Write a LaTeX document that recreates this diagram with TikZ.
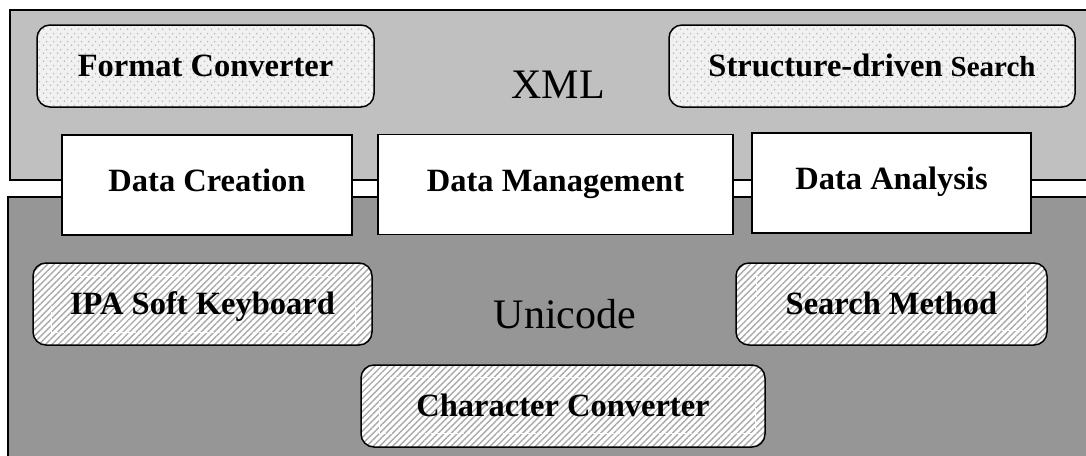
\documentclass[tikz,border=0pt]{standalone}
\usepackage{fontspec}
\setmainfont{Liberation Serif}
\usetikzlibrary{patterns.meta,calc}

\definecolor{xmlgray}{RGB}{192,192,192}
\definecolor{unigray}{RGB}{150,150,150}
\definecolor{dotbg}{RGB}{241,241,241}
\definecolor{dotfg}{RGB}{186,186,186}
\definecolor{hatchfg}{RGB}{170,170,170}

% staggered grid of small dots
\tikzdeclarepattern{
  name=softdots, type=uncolored,
  bounding box={(0pt,0pt) and (7pt,8pt)},
  tile size={(7pt,8pt)},
  code={
    \fill (1.75pt,2pt) circle [radius=1pt];
    \fill (5.25pt,6pt) circle [radius=1pt];
  }
}

\newcommand\labelfont{\fontsize{32.5}{36}\selectfont\bfseries}
\newcommand\layerfont{\fontsize{42}{48}\selectfont}

\begin{document}
\begin{tikzpicture}[x=1pt,y=-1pt,
  layer/.style={draw, line width=1.5pt},
  softbox/.style={draw, line width=1.5pt, rounded corners=13pt,
    preaction={fill=dotbg}, pattern=softdots, pattern color=dotfg,
    minimum height=82pt, inner sep=0pt, text height=21pt, text depth=0pt,
    font=\labelfont},
  hatchbox/.style={draw, line width=1.5pt, rounded corners=13pt,
    preaction={fill=white},
    pattern={Lines[angle=45,distance=4.6pt,line width=1.4pt]}, pattern color=hatchfg,
    minimum height=82pt, inner sep=0pt, text height=21pt, text depth=0pt,
    font=\labelfont},
  whitebox/.style={draw, line width=1.5pt, fill=white,
    minimum height=100pt, inner sep=0pt, text height=21pt, text depth=8pt,
    font=\labelfont},
  innerdash/.style={draw=white, line width=0.6pt, dash pattern=on 3pt off 3pt},
  layerlabel/.style={font=\layerfont, anchor=base, inner sep=0pt}
]
\useasboundingbox (0,0) rectangle (1086,455);
\clip (0,0) rectangle (1086,455);
\fill[white] (0,0) rectangle (1086,455);

% the two layers
\path[layer, fill=xmlgray] (10,10) rectangle (1100,180);
\path[layer, fill=unigray] (8,197) rectangle (1100,470);

\node[layerlabel] (xml) at (558,98) {XML};
\node[layerlabel] (uni) at (565,328) {Unicode};

% XML layer tools
\node[softbox, minimum width=337pt] (fmt) at (205.5,66) {Format Converter};
\node[softbox, minimum width=406pt] (sds) at (872,66)
  {Structure-driven {\fontsize{29}{32}\selectfont Search}};

% functions spanning both layers
\node[whitebox, minimum width=290pt] (create) at (207,185) {Data Creation};
\node[whitebox, minimum width=355pt] (manage) at (555.5,184.5) {Data Management};
\node[whitebox, minimum width=279pt] (analyse) at (891.5,183) {Data Analysis};

% Unicode layer tools
\node[hatchbox, minimum width=339pt] (ipa) at (202.5,304) {IPA Soft Keyboard};
\node[hatchbox, minimum width=311pt] (search) at (891.5,304) {Search Method};
\node[hatchbox, minimum width=404pt] (char) at (563,406) {Character Converter};

\draw[innerdash] ($(ipa.north west)+(19,14)$) rectangle ($(ipa.south east)+(-17,-13)$);
\draw[innerdash] ($(search.north west)+(21,14)$) rectangle ($(search.south east)+(-21,-15)$);
\draw[innerdash] ($(char.north west)+(19,13)$) rectangle ($(char.south east)+(-10,-14)$);
\end{tikzpicture}
\end{document}
